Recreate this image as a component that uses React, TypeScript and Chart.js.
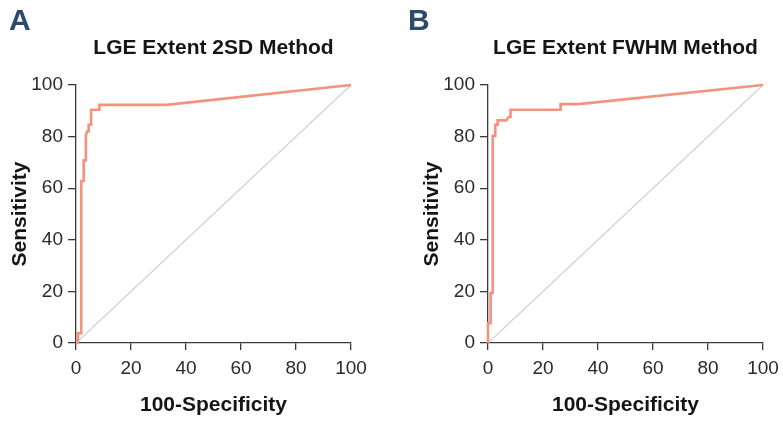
import React, { useEffect, useRef } from 'react';
import { Chart, registerables } from 'chart.js';
Chart.register(...registerables);

const FONT = "'Liberation Sans', Arial, Helvetica, sans-serif";

const xTickValues = [0, 20, 40, 60, 80, 100];
const yTickValues = [0, 20, 40, 60, 80, 100];

const titleA = 'LGE Extent 2SD Method';
const titleB = 'LGE Extent FWHM Method';
const xTitle = '100-Specificity';
const yTitle = 'Sensitivity';

// Panel A: 100-Specificity (x) and Sensitivity (y)
const fprA = [0, 0.7, 0.7, 1.9, 1.9, 2.8, 2.8, 3.6, 3.6, 4.0, 4.6, 4.6, 5.5, 5.5, 8.5, 8.5, 32.8, 100];
const sensA = [0, 0, 3.8, 3.8, 62.8, 62.8, 70.8, 70.8, 80.5, 82, 82, 84.6, 84.6, 90.4, 90.4, 92.3, 92.3, 100];

// Panel B
const fprB = [0, 0, 0.95, 0.95, 1.7, 1.7, 2.65, 2.65, 3.5, 3.5, 6.7, 7.5, 8.2, 8.2, 26.4, 26.4, 32.9, 100];
const sensB = [0, 7.7, 7.7, 19.4, 19.4, 80.3, 80.3, 84.6, 84.6, 86.3, 86.3, 87.6, 87.6, 90.4, 90.4, 92.6, 92.6, 100];

// Reference diagonal
const diagX = [0, 100];
const diagY = [0, 100];

const CURVE = '#f4937d';
const DIAG = '#cdcdcd';
const AXIS = '#3a3a3a';

function RocChart({ fpr, sens, width, rightPad }: { fpr: number[]; sens: number[]; width: number; rightPad: number }) {
  const ref = useRef<HTMLCanvasElement>(null);
  useEffect(() => {
    const chart = new Chart(ref.current as HTMLCanvasElement, {
      type: 'scatter',
      data: {
        datasets: [
          {
            data: fpr.map((x, i) => ({ x, y: sens[i] })),
            showLine: true,
            borderColor: CURVE,
            borderWidth: 2.6,
            pointRadius: 0,
            tension: 0,
            clip: false,
            order: 0,
          } as any,
          {
            data: diagX.map((x, i) => ({ x, y: diagY[i] })),
            showLine: true,
            borderColor: DIAG,
            borderWidth: 1.2,
            pointRadius: 0,
            tension: 0,
            order: 1,
          } as any,
        ],
      },
      options: {
        responsive: false,
        animation: false,
        devicePixelRatio: 1,
        events: [],
        layout: { padding: { left: 0, top: 85, right: rightPad, bottom: 0 } },
        plugins: { legend: { display: false }, tooltip: { enabled: false }, title: { display: false } },
        scales: {
          x: {
            type: 'linear',
            min: 0,
            max: 100,
            afterBuildTicks: (s: any) => {
              s.ticks = xTickValues.map((v) => ({ value: v }));
            },
            afterFit: (s: any) => {
              s.height = 79;
              s.paddingLeft = 0;
              s.paddingRight = 0;
            },
            grid: { display: true, drawOnChartArea: false, drawTicks: true, tickLength: 7, color: AXIS, lineWidth: 1.3 },
            border: { display: true, color: AXIS, width: 1.3 },
            ticks: { font: { family: FONT, size: 19 }, color: '#2a2a2a', padding: 7, maxRotation: 0, autoSkip: false },
            title: { display: true, text: xTitle, font: { family: FONT, size: 21, weight: 'bold' }, color: '#151515', padding: { top: 0, bottom: 4 } },
          },
          y: {
            type: 'linear',
            min: 0,
            max: 100,
            afterBuildTicks: (s: any) => {
              s.ticks = yTickValues.map((v) => ({ value: v }));
            },
            afterFit: (s: any) => {
              s.width = 76;
              s.paddingTop = 0;
              s.paddingBottom = 0;
            },
            grid: { display: true, drawOnChartArea: false, drawTicks: true, tickLength: 8, color: AXIS, lineWidth: 1.3 },
            border: { display: true, color: AXIS, width: 1.3 },
            ticks: { font: { family: FONT, size: 19 }, color: '#2a2a2a', padding: 5, autoSkip: false },
            title: { display: true, text: yTitle, font: { family: FONT, size: 21, weight: 'bold' }, color: '#151515', padding: { top: 8, bottom: 0 } },
          },
        },
      } as any,
    });
    return () => chart.destroy();
  }, []);
  return <canvas ref={ref} width={width} height={422} style={{ display: 'block', width, height: 422 }} />;
}

const letterStyle: React.CSSProperties = {
  position: 'absolute',
  fontFamily: FONT,
  fontWeight: 'bold',
  fontSize: 30,
  lineHeight: '30px',
  color: '#2d4a6c',
};

const titleStyle: React.CSSProperties = {
  position: 'absolute',
  fontFamily: FONT,
  fontWeight: 'bold',
  fontSize: 21,
  lineHeight: '21px',
  color: '#151515',
  textAlign: 'center',
  whiteSpace: 'nowrap',
  width: 300,
};

export default function App() {
  return (
    <div style={{ position: 'fixed', left: 0, top: 0, width: 783, height: 422, overflow: 'hidden', background: '#ffffff' }}>
      <div style={{ position: 'absolute', left: 0, top: 0 }}>
        <RocChart fpr={fprA} sens={sensA} width={412} rightPad={61} />
      </div>
      <div style={{ position: 'absolute', left: 412, top: 0 }}>
        <RocChart fpr={fprB} sens={sensB} width={371} rightPad={20} />
      </div>
      <div style={{ ...letterStyle, left: 9, top: 5 }}>A</div>
      <div style={{ ...letterStyle, left: 408, top: 5 }}>B</div>
      <div style={{ ...titleStyle, left: 213.5 - 150, top: 36 }}>{titleA}</div>
      <div style={{ ...titleStyle, left: 625.5 - 150, top: 36 }}>{titleB}</div>
    </div>
  );
}
